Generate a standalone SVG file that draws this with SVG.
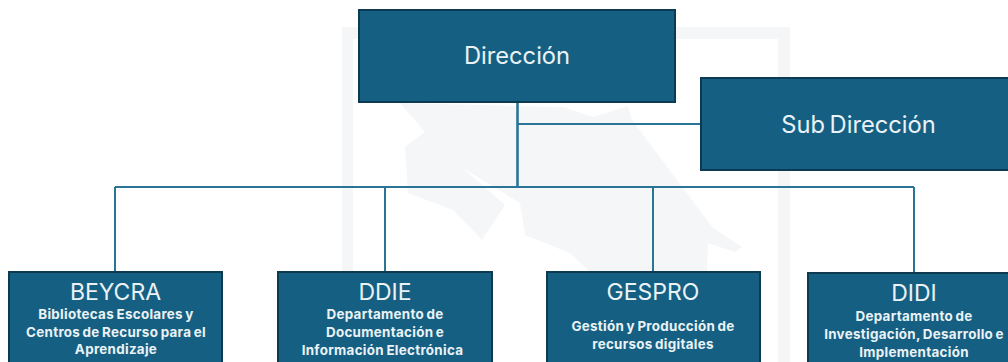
<svg xmlns="http://www.w3.org/2000/svg" width="1008" height="362" viewBox="0 0 1008 362">
<style>
.box{fill:#156082;stroke:#0c3a50;stroke-width:2}
.conn{fill:none;stroke:#2a7496;stroke-width:2}
.stem{stroke-width:2.6px}
.wm{fill:#f5f6f8;stroke:none}
text{font-family:"Inter","Liberation Sans",sans-serif;fill:#eaf2f6;text-anchor:middle}
.t{font-size:23.7px;word-spacing:-2px}
.h{font-size:23px}
.s{font-size:13.4px;font-weight:700;letter-spacing:.3px;word-spacing:-1px}
</style>
<rect width="1008" height="362" fill="#fff"/>
<g id="watermark">
<path class="wm" fill-rule="evenodd" d="M342 27H790V362H342ZM353 39V362H778V39Z"/>
<path class="wm" d="M400 103L425 132L405 147L408 193L453 210L482 240L505 205L463 168L520 203L525 235L570 253L590 272L707 272L708 243L735 252L742 247L713 228L632 120L628 106L593 117L563 107Z"/>
</g>
<g id="connectors">
<path class="conn" d="M115 187H914M115 187V272M385 187V272M653 187V272M914 187V274M517 124H702"/>
<path class="conn stem" d="M517.5 102V187"/>
</g>
<g id="direccion"><rect class="box" x="359" y="10" width="316" height="92"/><text class="t" x="517" y="64">Dirección</text></g>
<g id="subdireccion"><rect class="box" x="701" y="78" width="312" height="92"/><text class="t" x="858.500" y="133">Sub Dirección</text></g>
<g id="beycra"><rect class="box" x="9" y="272" width="213" height="95"/><text class="h" x="115.500" y="300">BEYCRA</text><text class="s" x="116" y="319">Bibliotecas Escolares y</text><text class="s" x="116" y="337">Centros de Recurso para el</text><text class="s" x="116" y="354">Aprendizaje</text></g>
<g id="ddie"><rect class="box" x="278" y="272" width="214" height="95"/><text class="h" x="385" y="300">DDIE</text><text class="s" x="385" y="319">Departamento de</text><text class="s" x="385" y="337">Documentación e</text><text class="s" x="382.500" y="355">Información Electrónica</text></g>
<g id="gespro"><rect class="box" x="547" y="272" width="213" height="95"/><text class="h" x="653" y="300">GESPRO</text><text class="s" x="653" y="331">Gestión y Producción de</text><text class="s" x="653" y="349">recursos digitales</text></g>
<g id="didi"><rect class="box" x="808" y="273" width="214" height="95"/><text class="h" x="914" y="301">DIDI</text><text class="s" x="914" y="321">Departamento de</text><text class="s" x="914" y="339">Investigación, Desarrollo e</text><text class="s" x="914" y="357">Implementación</text></g>
</svg>
